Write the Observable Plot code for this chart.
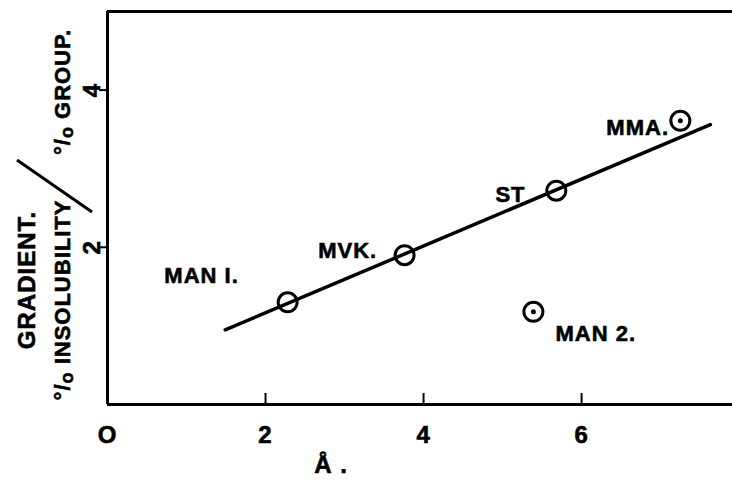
<!DOCTYPE html>
<html><head><meta charset="utf-8">
<script src="https://cdn.jsdelivr.net/npm/d3@7"></script>
<script src="https://cdn.jsdelivr.net/npm/@observablehq/plot@0.6"></script>
<style>
body{margin:0;background:#fff}
svg{font-family:"Liberation Sans",Arial,sans-serif;font-weight:bold}
svg text{letter-spacing:1px;stroke:#000;stroke-width:0.6px}
</style>
</head><body><div id="chart"></div>
<script>
// Points
const names = ["MAN I.", "MVK.", "ST", "MMA.", "MAN 2."];
const xVals = [2.28, 3.76, 5.68, 7.25, 5.39];
const yVals = [1.30, 1.90, 2.72, 3.61, 1.18];
const centreDot = [false, false, false, true, true];
const labelX = [1.19, 3.04, 5.10, 6.71, 6.18];
const labelY = [1.63, 1.95, 2.67, 3.52, 0.90];
// Fitted line
const fitX = [1.49, 7.63];
const fitY = [0.95, 3.56];
// Ticks
const xTicks = [0, 2, 4, 6];
const xTickLabels = ["O", "2", "4", "6"];
const yTicks = [2, 4];
const yTickLabels = ["2", "4"];

const pts = names.map((n, i) => ({name: n, x: xVals[i], y: yVals[i], dot: centreDot[i], lx: labelX[i], ly: labelY[i]}));
const fit = fitX.map((x, i) => ({x, y: fitY[i]}));

const plot = Plot.plot({
  width: 732, height: 486,
  marginLeft: 107, marginRight: 0, marginTop: 11, marginBottom: 82,
  x: {domain: [0, 7.91], axis: null},
  y: {domain: [0, 5], axis: null},
  style: {background: "#fff", color: "#000"},
  marks: [
    Plot.ruleX([0], {stroke: "#000", strokeWidth: 3}),
    Plot.ruleY([0], {stroke: "#000", strokeWidth: 3}),
    Plot.ruleY([5], {stroke: "#000", strokeWidth: 3}),
    Plot.ruleX(xTicks.filter(d => d > 0), {stroke: "#000", strokeWidth: 2, insetTop: 382}),
    Plot.tickY(yTicks, {y: d => d, stroke: "#000", strokeWidth: 2}),
    Plot.text(xTicks, {x: d => d, text: (d, i) => xTickLabels[i], frameAnchor: "bottom", lineAnchor: "middle", dy: 31, fontSize: 24, fontWeight: "bold", fill: "#000"}),
    Plot.text(yTicks, {y: d => d, text: (d, i) => yTickLabels[i], frameAnchor: "left", textAnchor: "middle", lineAnchor: "middle", dx: -15, rotate: -90, fontSize: 24, fontWeight: "bold", fill: "#000"}),
    Plot.line(fit, {x: "x", y: "y", stroke: "#000", strokeWidth: 3.5}),
    Plot.dot(pts, {x: "x", y: "y", r: 9.5, stroke: "#000", strokeWidth: 3, fill: "none"}),
    Plot.dot(pts.filter(d => d.dot), {x: "x", y: "y", r: 2.5, fill: "#000"}),
    Plot.text(pts, {x: "lx", y: "ly", text: "name", fontSize: 22, fontWeight: "bold", fill: "#000"})
  ]
});

// Y tick marks drawn outward (short, on the left of the axis)
d3.select(plot).selectAll("g[aria-label='tick'] line")
  .attr("x1", 99).attr("x2", 107);

const svg = d3.select(plot);
const g = svg.append("g").attr("fill", "#000");
function rtext(x, y, size, parts) {
  const t = g.append("text")
    .attr("transform", `translate(${x},${y}) rotate(-90)`)
    .attr("text-anchor", "middle").attr("dy", "0.35em")
    .attr("font-size", size).attr("font-weight", "bold");
  parts.forEach(p => {
    const s = t.append("tspan").text(p.t);
    if (p.size) s.attr("font-size", p.size);
    if (p.dy) s.attr("dy", p.dy);
  });
  return t;
}
rtext(27, 280, 24, [{t: "GRADIENT."}]);
rtext(62, 300, 22, [{t: "°/"}, {t: "o", size: 18, dy: 3}, {t: " INSOLUBILITY", dy: -3}]);
rtext(62, 92, 22, [{t: "°/"}, {t: "o", size: 18, dy: 3}, {t: " GROUP.", dy: -3}]);
g.append("line").attr("x1", 17).attr("y1", 160).attr("x2", 92).attr("y2", 212)
  .attr("stroke", "#000").attr("stroke-width", 3);
g.append("text").attr("x", 331).attr("y", 473).attr("text-anchor", "middle")
  .attr("font-size", 24).attr("font-weight", "bold").text("Å .");

document.getElementById("chart").append(plot);
</script>
</body></html>
